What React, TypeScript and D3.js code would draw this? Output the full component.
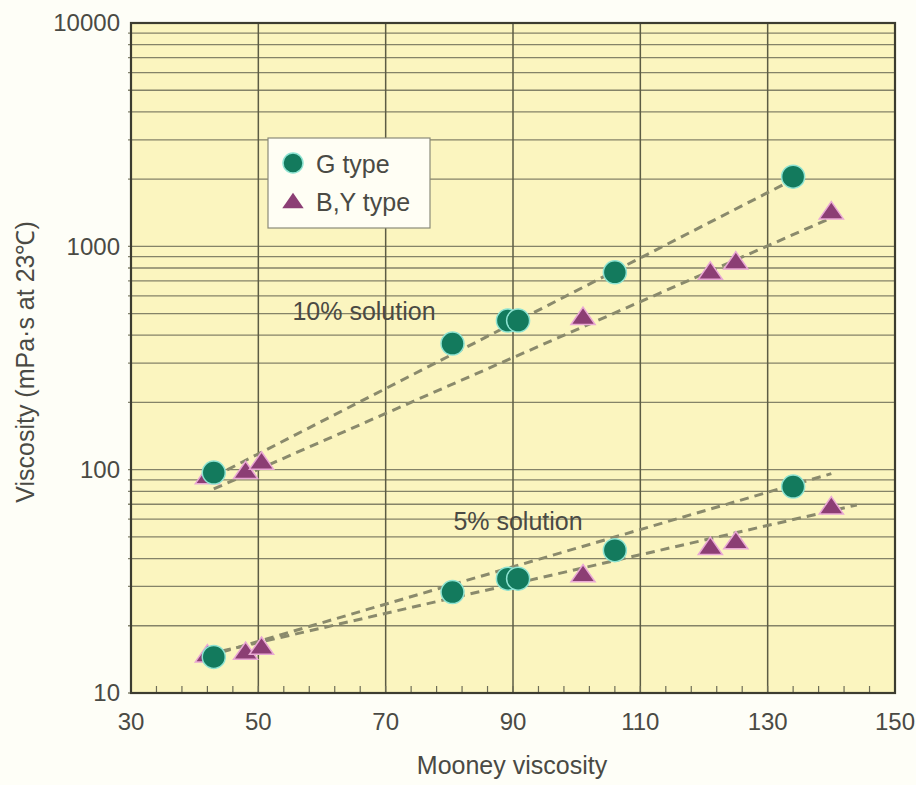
import React, { useRef, useEffect } from 'react';
import * as d3 from 'd3';

// Mooney viscosity of samples
const gMooney = [43, 80.5, 89.2, 90.8, 106, 134];
const gTen = [97, 367, 465, 465, 765, 2050];
const gFive = [14.5, 28.3, 32.5, 32.5, 43.6, 84];

const byMooney = [42, 48, 50.5, 101, 121, 125, 140];
const byTen = [93, 98, 108, 480, 765, 850, 1425];
const byFive = [14.8, 15.2, 16, 33.8, 44.8, 47.5, 68];

// dashed trend lines, end points
const trendG10 = [[43, 93], [134, 1990]];
const trendBY10 = [[43, 82], [141, 1380]];
const trendG5 = [[42, 14.6], [140, 96]];
const trendBY5 = [[42, 14.9], [144, 69.5]];

const xTicks = [30, 50, 70, 90, 110, 130, 150];
const yTicks = [10, 100, 1000, 10000];

const W = 916;
const H = 785;

const FONT = '"Liberation Sans", Arial, Helvetica, sans-serif';
const TEXT = '#4a4a44';
const GRID = '#6e6e58';
const GREEN = '#137a5d';
const PURPLE = '#8c3e74';
const DASH = '#8a8a6c';

// flat triangle like the printed marker
const flatTriangle = {
    draw(ctx, size) {
        const w = Math.sqrt(size) * 1.75;
        const h = w * 0.72;
        ctx.moveTo(0, -h * 0.6);
        ctx.lineTo(w / 2, h * 0.4);
        ctx.lineTo(-w / 2, h * 0.4);
        ctx.closePath();
    }
};

const App = () => {
    const svgRef = useRef(null);

    useEffect(() => {
        const svg = d3.select(svgRef.current);
        svg.selectAll('*').remove();

        const x = d3.scaleLinear().domain([30, 150]).range([131, 895]);
        const y = d3.scaleLog().domain([10, 10000]).range([693, 23]);
        const [x0, x1] = x.range();
        const [y0, y1] = y.range();

        svg.append('rect').attr('width', W).attr('height', H).attr('fill', '#fefef7');

        // plot background
        svg.append('rect')
            .attr('x', x0).attr('y', y1)
            .attr('width', x1 - x0).attr('height', y0 - y1)
            .attr('fill', '#fbf5bf');

        // horizontal log grid
        const minor = [];
        for (let dec = 10; dec < 10000; dec *= 10) {
            for (let k = 1; k < 10; k++) minor.push(dec * k);
        }
        svg.append('g').selectAll('line')
            .data(minor)
            .enter()
            .append('line')
            .attr('x1', x0 - 3).attr('x2', x1)
            .attr('y1', d => y(d)).attr('y2', d => y(d))
            .attr('stroke', GRID)
            .attr('stroke-opacity', 0.85)
            .attr('stroke-width', 1.3);

        // vertical grid
        svg.append('g').selectAll('line')
            .data(xTicks.slice(1, -1))
            .enter()
            .append('line')
            .attr('x1', d => x(d)).attr('x2', d => x(d))
            .attr('y1', y1).attr('y2', y0)
            .attr('stroke', '#5c5c44')
            .attr('stroke-width', 1.5);

        // small ticks along the bottom, every 4 units
        svg.append('g').selectAll('line')
            .data(d3.range(34, 150, 4))
            .enter()
            .append('line')
            .attr('x1', d => x(d)).attr('x2', d => x(d))
            .attr('y1', y0).attr('y2', y0 - 7)
            .attr('stroke', GRID)
            .attr('stroke-width', 1.2);

        // frame
        svg.append('rect')
            .attr('x', x0).attr('y', y1)
            .attr('width', x1 - x0).attr('height', y0 - y1)
            .attr('fill', 'none')
            .attr('stroke', '#3c3c30')
            .attr('stroke-width', 2.2);

        // tick labels
        svg.append('g').selectAll('text')
            .data(xTicks)
            .enter()
            .append('text')
            .attr('x', d => x(d)).attr('y', 730)
            .attr('text-anchor', 'middle')
            .style('font-family', FONT).style('font-size', '24px')
            .attr('fill', TEXT)
            .text(d => d);

        svg.append('g').selectAll('text')
            .data(yTicks)
            .enter()
            .append('text')
            .attr('x', x0 - 11).attr('y', d => y(d))
            .attr('dy', '0.35em')
            .attr('text-anchor', 'end')
            .style('font-family', FONT).style('font-size', '24px')
            .attr('fill', TEXT)
            .text(d => d);

        // axis titles
        svg.append('text')
            .attr('x', 512).attr('y', 774)
            .attr('text-anchor', 'middle')
            .style('font-family', FONT).style('font-size', '25px')
            .attr('fill', TEXT)
            .text('Mooney viscosity');

        svg.append('text')
            .attr('transform', `translate(34, 362) rotate(-90)`)
            .attr('text-anchor', 'middle')
            .style('font-family', FONT).style('font-size', '25px')
            .attr('fill', TEXT)
            .text('Viscosity (mPa·s at 23℃)');

        // trend lines
        const line = d3.line().x(d => x(d[0])).y(d => y(d[1]));
        [trendG10, trendBY10, trendG5, trendBY5].forEach(t => {
            svg.append('path')
                .attr('d', line(t))
                .attr('fill', 'none')
                .attr('stroke', DASH)
                .attr('stroke-width', 3)
                .attr('stroke-dasharray', '9 6');
        });

        // markers
        const tri = d3.symbol().type(flatTriangle).size(190);
        const drawTriangles = (vals) => {
            svg.append('g').selectAll('path')
                .data(byMooney.map((m, i) => [m, vals[i]]))
                .enter()
                .append('path')
                .attr('d', tri)
                .attr('transform', d => `translate(${x(d[0])}, ${y(d[1])})`)
                .attr('fill', PURPLE)
                .attr('stroke', '#e9a8d4')
                .attr('stroke-width', 1.5);
        };
        const drawCircles = (vals) => {
            svg.append('g').selectAll('circle')
                .data(gMooney.map((m, i) => [m, vals[i]]))
                .enter()
                .append('circle')
                .attr('cx', d => x(d[0])).attr('cy', d => y(d[1]))
                .attr('r', 11.5)
                .attr('fill', GREEN)
                .attr('stroke', '#8ee3d2')
                .attr('stroke-width', 1.5);
        };
        drawTriangles(byTen);
        drawTriangles(byFive);
        drawCircles(gTen);
        drawCircles(gFive);

        // annotations
        svg.append('text')
            .attr('x', 364).attr('y', 311).attr('dy', '0.35em')
            .attr('text-anchor', 'middle')
            .style('font-family', FONT).style('font-size', '25px')
            .attr('fill', TEXT)
            .text('10% solution');
        svg.append('text')
            .attr('x', 518).attr('y', 521).attr('dy', '0.35em')
            .attr('text-anchor', 'middle')
            .style('font-family', FONT).style('font-size', '25px')
            .attr('fill', TEXT)
            .text('5% solution');

        // legend
        const lg = svg.append('g').attr('transform', 'translate(268, 138)');
        lg.append('rect')
            .attr('width', 162).attr('height', 90)
            .attr('fill', '#fffef4')
            .attr('stroke', '#8a8a78')
            .attr('stroke-width', 1.2);
        lg.append('circle')
            .attr('cx', 25).attr('cy', 25).attr('r', 10)
            .attr('fill', GREEN).attr('stroke', '#8ee3d2').attr('stroke-width', 1.5);
        lg.append('path')
            .attr('d', d3.symbol().type(flatTriangle).size(150))
            .attr('transform', 'translate(25, 64)')
            .attr('fill', PURPLE);
        lg.append('text')
            .attr('x', 48).attr('y', 26).attr('dy', '0.35em')
            .style('font-family', FONT).style('font-size', '25px')
            .attr('fill', TEXT)
            .text('G type');
        lg.append('text')
            .attr('x', 48).attr('y', 64).attr('dy', '0.35em')
            .style('font-family', FONT).style('font-size', '25px')
            .attr('fill', TEXT)
            .text('B,Y type');
    }, []);

    return (
        <svg
            ref={svgRef}
            width={W}
            height={H}
            style={{ position: 'absolute', left: 0, top: 0, display: 'block' }}
        />
    );
};

export default App;
